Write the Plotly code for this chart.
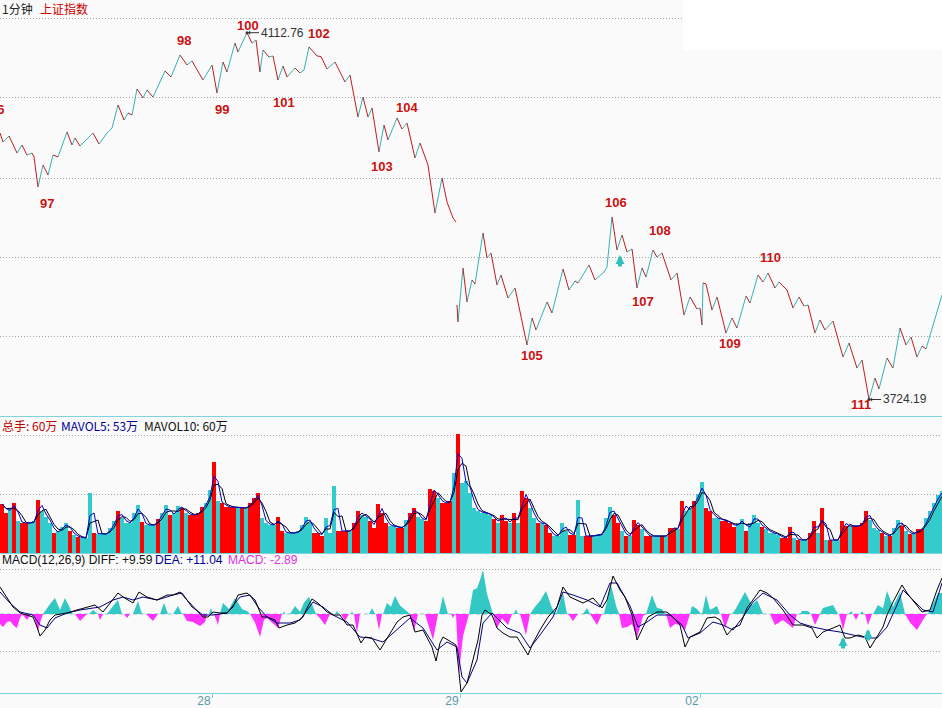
import plotly.graph_objects as go
import numpy as np
import pandas as pd

W, H = 942.0, 708.0

# ---------------- data ----------------
# 1-minute index (0 = left edge); day starts
day_ticks = [212, 460, 700]
day_labels = ["28", "29", "02"]

# price turning points (上证指数, 1 minute), None = opening gap
price_t = [0, 3, 9, 17, 22, 27, 32, 34, 38, 43,
           48, 53, 58, 67, 72, 75, 80, 93, 99, 107,
           112, 118, 124, 128, 132, 137, 143, 147, 153, 165,
           171, 180, 187, 192, 203, 212, 217, 223, 227, 235,
           238, 247, 252, 256, 260, 263, 269, 273, 278, 283,
           287, 295, 300, 304, 309, 317, 321, 327, 335, 345,
           350, 358, 363, 368, 372, 379, 384, 388, 397, 402,
           407, 415, 420, 428, 435, 442, 447, 453, 456,
           456.5,
           457, 458, 463, 467, 472, 475, 483, 487, 491, 497,
           501, 508, 515, 527, 532, 536, 547, 552, 563, 569,
           575, 578, 589, 595, 604, 607, 612, 617, 622, 627,
           632, 637, 642, 646, 653, 657, 662, 671, 677, 684,
           690, 697, 700, 702, 703, 706, 712, 717, 726, 732,
           737, 746, 750, 758, 763, 768, 775, 779, 787, 793,
           799, 804, 808, 815, 820, 825, 833, 843, 849, 857,
           862, 869, 875, 879, 887, 893, 900, 906, 911, 917,
           922, 926, 942]
price_v = [4006.5, 3997.0, 4003.3, 3985.3, 3993.8, 3983.2, 3985.3, 3981.1, 3949.3, 3972.6,
           3962.0, 3983.2, 3981.1, 4007.6, 3993.8, 4001.2, 3992.7, 4006.5, 3994.8, 4006.5,
           4011.8, 4036.2, 4020.3, 4027.7, 4025.6, 4053.1, 4043.6, 4052.1, 4044.6, 4072.2,
           4065.8, 4089.1, 4078.5, 4082.8, 4062.6, 4078.5, 4048.9, 4081.7, 4071.1, 4101.8,
           4092.3, 4112.76, 4101.8, 4105.0, 4071.1, 4094.4, 4087.0, 4088.1, 4062.6, 4077.5,
           4065.8, 4075.4, 4070.1, 4073.2, 4097.6, 4088.1, 4087.5, 4074.3, 4081.7, 4060.5,
           4067.9, 4023.4, 4044.6, 4023.4, 4033.0, 3986.4, 4015.0, 3999.1, 4022.4, 4010.7,
           4017.1, 3980.0, 3995.9, 3972.6, 3921.7, 3958.8, 3933.4, 3916.5, 3912.2,
           None,
           3824.3, 3806.3, 3863.5, 3827.5, 3850.8, 3846.5, 3900.6, 3874.1, 3879.4, 3845.5,
           3856.1, 3831.7, 3842.3, 3781.9, 3810.5, 3797.8, 3827.5, 3815.8, 3862.4, 3840.2,
           3849.7, 3847.6, 3866.7, 3850.8, 3859.2, 3864.5, 3917.5, 3882.5, 3898.4, 3880.4,
           3883.6, 3842.3, 3863.5, 3853.9, 3882.5, 3875.1, 3879.4, 3850.8, 3858.2, 3813.7,
           3832.8, 3820.0, 3821.1, 3803.1, 3847.6, 3846.5, 3819.0, 3832.8, 3794.6, 3810.5,
           3799.9, 3833.8, 3826.4, 3856.1, 3848.6, 3858.2, 3842.3, 3848.6, 3840.2, 3821.1,
           3832.8, 3823.2, 3824.3, 3794.6, 3808.4, 3797.8, 3807.3, 3769.2, 3784.0, 3757.5,
           3766.0, 3724.19, 3746.9, 3735.3, 3768.1, 3757.5, 3799.9, 3781.9, 3790.4, 3769.2,
           3780.8, 3777.7, 3834.9]

# wave count labels
wave_text = ["96", "97", "98", "99", "100", "101", "102", "103", "104",
             "105", "106", "107", "108", "109", "110", "111"]
wave_t = [0, 47, 184, 222, 248, 284, 319, 382, 407, 532, 616, 643, 660, 730, 770, 861]
wave_p = [4030.9, 3931.3, 4104.0, 4030.9, 4120.9, 4039.3, 4112.4, 3970.5, 4033.0,
          3771.3, 3933.4, 3827.5, 3902.7, 3783.0, 3875.1, 3719.4]

# buy-signal arrows
sig_t = [620]
sig_p = [3877.3]
macd_sig_t = [843, 868]
macd_sig_v = [-8.05, -5.25]

# volume (万手), 4-minute bins
vol_v = [49, 40, 45, 50, 32,  30, 30, 30, 32, 53,  42, 36, 30, 20, 22,  26, 30, 22, 18, 16,
         15, 15, 60, 20, 19,  19, 19, 25, 32, 42,  35, 30, 30, 40, 48,  31, 28, 28, 28, 34,
         40, 48, 38, 40, 47,  45, 40, 38, 38, 40,  46, 50, 63, 91, 52,  50, 46, 46, 46, 45,
         45, 45, 50, 55, 60,  35, 30, 28, 28, 36,  22, 20, 20, 20, 22,  28, 36, 30, 20, 20,
         17, 35, 20, 67, 22,  22, 22, 22, 30, 42,  38, 36, 32, 25, 49,  40, 30, 27, 27, 25,
         25, 33, 40, 45, 36,  34, 32, 64, 62, 55,  50, 50, 52, 80, 119, 70, 72, 60, 45, 42,
         40, 40, 38, 34, 30,  38, 32, 30, 40, 30,  62, 55, 45, 35, 30,  30, 28, 20, 17, 17,
         30, 22, 18, 18, 53,  17, 17, 17, 17, 19,  19, 35, 46, 38, 30,  22, 17, 17, 33, 28,
         24, 17, 17, 17, 17,  17, 17, 25, 25, 24,  52, 42, 45, 52, 59,  71, 45, 42, 35, 35,
         32, 32, 30, 26, 30,  34, 22, 30, 38, 30,  26, 24, 20, 20, 18,  15, 15, 26, 15, 13,
         13, 13, 20, 32, 20,  45, 13, 13, 13, 13,  32, 27, 27, 27, 27,  30, 42, 33, 25, 23,
         20, 17, 17, 25, 33,  27, 22, 19, 19, 24,  24, 35, 42, 50, 58,  62]
vol_dir = ("rrcrc" "rrccr" "cccrc" "ccrcr" "cccrc" "ccccr" "ccccc" "rcccr"
           "ccrcc" "rcrrr" "rccrc" "rrrrc" "rcrrr" "ccccr" "rcccc" "cccrr"
           "rcccr" "rrcrr" "ccrrr" "rrccr" "rcrrc" "crrrc" "rrrcr" "ccccc"
           "cccrc" "rrcrc" "rrccr" "crrcc" "ccrrc" "crrcc" "cccrr" "crcrr"
           "crrcc" "rcrrc" "rccrc" "crrcc" "rrrrc" "crccc" "rcccc" "rrrcr"
           "ccrrc" "rcrcc" "rrcrr" "rrccc" "rcrcc" "rcrcr" "rcccc" "c")
vol_t = list(range(2, 943, 4))

# MACD histogram (turning points)
hist_t = [0, 3, 7, 10, 14, 17, 20, 22,  27, 31,  34, 38, 41, 43,  50, 55, 60, 65, 70, 72,
          75, 80, 87,  89, 93, 97,  98, 100, 103,  107, 113, 118, 122,  124, 127, 130,
          133, 138, 142,  146, 153, 158,  160, 164, 168,  173, 178, 182,
          183, 187, 193, 200, 205, 207,  209, 211, 213,  214, 218, 220,
          223, 229, 235, 242, 247, 250,  255, 260, 264, 267, 272, 278, 282,
          283, 284, 285,  290, 295, 300, 304, 309, 316,  320, 325, 330,
          335, 337, 339,  341, 345, 349,  351, 352, 353,  354, 357, 360,
          369, 372, 375,  376, 379, 382,  383, 387, 391, 395, 400, 403, 407, 410,
          414, 418,  425, 433, 438,  439, 443, 448,  451, 453, 455,
          456, 458, 459, 463, 468, 469,  473, 477, 480, 483, 487, 493,
          497, 502, 508, 512,  514, 516, 518,  520, 526, 530,  535, 540, 546, 552, 556,
          563, 567,  568, 573, 578,  583, 587, 590,  597, 602,  604, 608, 611, 616, 619,
          622, 627, 632, 637, 643, 645,  646, 652, 657, 662, 665,
          666, 670, 675, 680, 685, 690,  692, 697, 701,  702, 706, 710, 717, 720,
          721, 725, 730,  732, 735, 745, 752, 757, 763,  770, 775, 783, 793, 797,
          800, 802, 808, 811,  815, 820,  823, 833, 838,  839, 843, 847,  849, 851, 853,
          856, 859,  860, 862, 864,  865, 868, 872,  873, 878, 883, 887, 893, 900, 905,
          910, 917, 923, 927,  928, 938, 942]
hist_v = [-3.5, -4.55, -2.8, -2.45, -4.2, -4.9, -1.4, 0,  -2.1, 0,  -1.0, -5.95, -2.0, 0,
          3.5, 5.6, 1.4, 5.6, 2.0, 0,
          0, -2.45, 0,  0, 1.4, 0,  0, -2.1, 0,  0, 2.8, 4.9, 0,  0, -1.4, 0,
          0, 4.55, 0,  0, -2.45, 0,  0, 3.85, 0,  0, 2.8, 0,
          0, -2.45, -2.8, -4.2, -2.8, 0,  0, 2.1, 0,  0, -3.85, 0,
          3.85, 1.75, 5.6, 1.75, 1.05, 0,  -3.0, -8.05, -2.0, -1.4, -3.0, -4.9, 0,
          0, 1.05, 0,  0, 2.8, 0.7, 4.0, 5.95, 0,  -1.5, -3.85, 0,
          0, 1.05, 0,  0, -2.45, 0,  0, 1.05, 0,  0, -6.65, 0,
          0, 2.1, 0,  0, -5.6, 0,  0, 3.85, 2.5, 6.3, 3.0, 2.1, 1.0, 0,
          -5.95, 0,  0, -9.1, 0,  0, 6.3, 0,  0, -1.4, 0,
          0, -16.1, -20.65, -7.7, -0.7, 0,  8.4, 9.0, 11.9, 15.4, 7.0, 0,
          -4.9, -1.5, -3.85, 0,  0, 1.75, 0,  0, -7.35, 0,  2.5, 4.55, 8.05, 2.1, 0,
          7.35, 0,  0, -2.45, 0,  0, 2.1, 0,  -3.85, 0,  0, 6.0, 10.15, 3.0, 0,
          -4.9, -4.55, -3.5, -8.4, -0.7, 0,  0, 6.65, 2.1, 1.75, 0,
          0, -4.9, -3.5, -3.85, -5.6, 0,  2.8, 1.75, 0,  0, 6.65, 1.4, 2.8, 0,
          0, -4.9, 0,  0, 1.4, 7.7, 3.15, 4.9, 0,  0, -3.85, -2.1, -4.9, 0,
          0, 1.05, 1.05, 0,  -3.85, 0,  2.1, 3.15, 0,  0, -5.6, 0,  0, 1.05, 0,
          -2.1, 0,  0, 1.0, 0,  0, -3.85, 0,  0, 3.15, 2.0, 8.05, 2.5, 7.7, 0,
          -3.0, -5.6, -2.0, 0,  0, 7.35, 7.35]

# DIFF (black) and DEA (blue)
diff_t = [0, 5, 13, 20, 33, 37, 40, 45, 50, 55, 67, 77, 87, 95, 103, 110, 118, 123, 133, 139,
          147, 157, 167, 173, 180, 187, 197, 203, 208, 213, 220, 227, 233, 238, 247, 255, 262, 267, 275, 279,
          287, 295, 303, 307, 312, 318, 327, 333, 340, 347, 353, 361, 365, 372, 380, 387, 397, 403, 410, 415,
          423, 432, 436, 440, 443, 448, 456, 458, 461, 467, 473, 478, 482, 485, 492, 497, 503, 510, 517, 523,
          528, 533, 540, 548, 557, 563, 570, 583, 593, 602, 607, 613, 620, 625, 632, 637, 642, 648, 657, 667,
          673, 680, 685, 690, 700, 707, 715, 720, 727, 733, 740, 747, 755, 760, 767, 773, 783, 793, 803, 812,
          817, 823, 833, 840, 845, 850, 858, 865, 870, 877, 883, 887, 893, 902, 907, 915, 922, 930, 937, 942]
diff_v = [9.45, 6.65, 2.45, 0.35, -1.05, -4.55, -7.7, -5.6, -2.1, -0.35,
          0.35, 1.4, 2.45, 3.15, 0.7, 3.85, 7.35, 5.95, 3.85, 7.7,
          5.95, 4.9, 6.65, 6.65, 7.7, 4.9, 1.4, -1.05, -1.05, 0.7,
          0.35, 0.35, 2.45, 6.65, 7.35, 4.9, -1.05, -1.05, -2.1, -4.9,
          -3.85, -3.15, -1.05, 2.1, 5.25, 3.85, 0.7, -0.35, -0.35, -3.85,
          -3.85, -10.15, -8.05, -8.4, -12.6, -8.4, -2.8, -1.05, -0.35, -6.3,
          -5.6, -11.55, -16.45, -10.15, -8.05, -9.1, -10.85, -17.15, -27.3, -24.15,
          -16.1, -9.1, -0.35, 1.4, -0.35, -4.9, -6.65, -8.05, -8.05, -11.55,
          -14.35, -10.15, -5.6, -1.05, 2.45, 9.45, 5.95, 3.85, 5.6, 2.1,
          4.9, 13.3, 8.4, 5.95, -0.35, -9.1, -5.6, -1.05, 0.7, 0.7,
          -1.05, -3.85, -11.55, -8.05, -6.3, -1.4, -1.05, -2.1, -7.35, -4.9,
          -3.85, 2.1, 5.95, 8.4, 7.35, 5.6, 1.4, -3.85, -3.85, -4.9,
          -8.4, -6.3, -4.9, -3.85, -8.4, -8.4, -7.35, -8.05, -11.9, -8.05,
          -4.55, -0.35, 4.2, 10.15, 7.35, 3.85, 0.7, 1.4, 8.4, 12.6]
dea_t = [0, 10, 20, 33, 40, 47, 55, 67, 80, 100, 113, 123, 133, 143, 157, 173, 182, 192, 203, 213,
         227, 240, 250, 258, 267, 277, 290, 300, 313, 323, 333, 347, 360, 370, 383, 397, 410, 423, 437, 447,
         457, 462, 467, 477, 483, 492, 507, 520, 530, 540, 553, 563, 573, 587, 600, 610, 617, 630, 638, 647,
         657, 670, 682, 688, 700, 713, 723, 733, 743, 753, 763, 777, 790, 800, 813, 827, 840, 853, 867, 877,
         887, 897, 903, 913, 923, 933, 942]
dea_v = [7.7, 3.85, 0.7, -0.35, -3.85, -4.9, -1.4, 0.35, 1.4, 2.45,
         4.9, 5.95, 4.9, 5.95, 4.9, 6.65, 7.35, 2.45, -0.35, -0.35,
         0.35, 5.95, 6.65, 2.45, -1.05, -3.15, -3.15, -2.1, 4.2, 2.45,
         -0.35, -2.8, -8.05, -8.4, -9.8, -5.6, -1.4, -4.9, -12.6, -9.8,
         -11.55, -22.05, -24.15, -16.1, -3.15, 0.35, -4.9, -6.65, -11.9, -7.35,
         -1.05, 7.7, 6.65, 4.9, 2.45, 10.85, 10.85, 2.8, -4.55, -2.8,
         -0.35, -0.35, -3.85, -8.4, -6.65, -2.8, -3.85, -5.6, -1.05, 4.2,
         7.35, 4.9, -0.35, -3.15, -4.55, -5.6, -6.3, -7.35, -8.4, -8.4,
         -4.55, 3.15, 8.4, 4.9, 1.4, 0.7, 10.85]

# axis scales and grid levels
price_range = [3706.7, 4147.4]
price_grid = [4127.3, 4043.6, 3958.8, 3875.1, 3790.4]
vol_range = [0, 136]
vol_grid = [59, 118]
macd_range = [-27.65, 21.0]
macd_grid = [15.75, -12.95]

assert len(price_t) == len(price_v)
assert len(vol_v) == len(vol_dir) == len(vol_t)
assert len(hist_t) == len(hist_v)
assert len(diff_t) == len(diff_v) and len(dea_t) == len(dea_v)

# ---------------- style ----------------
RED_LINE = "#c41a1a"
CYAN_LINE = "#35b2b2"
VOL_RED = "#ff0000"
VOL_CYAN = "#33cccc"
HIST_CYAN = "#33c8c4"
HIST_MAG = "#ff33ff"
BORDER = "#7fd3dc"
GRID = "#9aa8ac"
BG = "#fafafa"
FONT = "Liberation Sans, Noto Sans CJK SC, sans-serif"
CJK = "Noto Sans CJK SC, Liberation Sans, sans-serif"

fig = go.Figure()

# ---- price line: rising = cyan, falling = red ----
up_x, up_y, dn_x, dn_y = [], [], [], []
for i in range(len(price_t) - 1):
    a, b = price_v[i], price_v[i + 1]
    if a is None or b is None:
        continue
    if b >= a:
        up_x += [price_t[i], price_t[i + 1], None]
        up_y += [a, b, None]
    else:
        dn_x += [price_t[i], price_t[i + 1], None]
        dn_y += [a, b, None]
fig.add_trace(go.Scatter(x=up_x, y=up_y, mode="lines", line=dict(color=CYAN_LINE, width=1),
                         xaxis="x", yaxis="y", hoverinfo="skip", showlegend=False))
fig.add_trace(go.Scatter(x=dn_x, y=dn_y, mode="lines", line=dict(color=RED_LINE, width=1),
                         xaxis="x", yaxis="y", hoverinfo="skip", showlegend=False))

valid = [(t, v) for t, v in zip(price_t, price_v) if v is not None]
hi_t, hi_v = max(valid, key=lambda p: p[1])
lo_t, lo_v = min(valid, key=lambda p: p[1])
fig.add_trace(go.Scatter(x=[hi_t, lo_t], y=[hi_v, lo_v], mode="markers",
                         marker=dict(color="#333333", size=3), xaxis="x", yaxis="y",
                         hoverinfo="skip", showlegend=False))

# ---- volume ----
vol_colors = [VOL_RED if c == "r" else VOL_CYAN for c in vol_dir]
fig.add_trace(go.Bar(x=vol_t, y=vol_v, width=4, marker=dict(color=vol_colors, line=dict(width=0)),
                     xaxis="x", yaxis="y2", hoverinfo="skip", showlegend=False))
vs = pd.Series(vol_v, dtype=float)
mavol5 = vs.rolling(2, min_periods=1).mean()
mavol10 = vs.rolling(3, min_periods=1).mean()
fig.add_trace(go.Scatter(x=vol_t, y=mavol10, mode="lines", line=dict(color="#000000", width=1),
                         xaxis="x", yaxis="y2", hoverinfo="skip", showlegend=False))
fig.add_trace(go.Scatter(x=vol_t, y=mavol5, mode="lines", line=dict(color="#0000cc", width=1),
                         xaxis="x", yaxis="y2", hoverinfo="skip", showlegend=False))

# ---- MACD ----
hv = np.array(hist_v, dtype=float)
fig.add_trace(go.Scatter(x=hist_t, y=np.clip(hv, 0, None), mode="lines", line=dict(width=0, color=HIST_CYAN),
                         fill="tozeroy", fillcolor=HIST_CYAN, xaxis="x", yaxis="y3",
                         hoverinfo="skip", showlegend=False))
fig.add_trace(go.Scatter(x=hist_t, y=np.clip(hv, None, 0), mode="lines", line=dict(width=0, color=HIST_MAG),
                         fill="tozeroy", fillcolor=HIST_MAG, xaxis="x", yaxis="y3",
                         hoverinfo="skip", showlegend=False))
fig.add_trace(go.Scatter(x=dea_t, y=dea_v, mode="lines", line=dict(color="#000080", width=1),
                         xaxis="x", yaxis="y3", hoverinfo="skip", showlegend=False))
fig.add_trace(go.Scatter(x=diff_t, y=diff_v, mode="lines", line=dict(color="#000000", width=1),
                         xaxis="x", yaxis="y3", hoverinfo="skip", showlegend=False))

# ---------------- annotations ----------------
ann = []
for i, (txt, t, p) in enumerate(zip(wave_text, wave_t, wave_p)):
    a = dict(x=t, y=p, xref="x", yref="y", text=txt, showarrow=False,
             font=dict(family=FONT, size=13, color="#cc1111", weight="bold"))
    if i == 0:
        a.update(xanchor="right", xshift=6)
    ann.append(a)

for t, v in [(hi_t, hi_v), (lo_t, lo_v)]:
    ann.append(dict(x=t, y=v, xref="x", yref="y", text=f"{v:.2f}", showarrow=True,
                    ax=12, ay=0, xanchor="left", arrowhead=1, arrowsize=0.7, arrowwidth=1,
                    arrowcolor="#333333", standoff=1,
                    font=dict(family=FONT, size=12, color="#333333")))

for t, p in zip(sig_t, sig_p):
    ann.append(dict(x=t, y=p, xref="x", yref="y", text="", showarrow=True, ax=0, ay=13,
                    arrowhead=2, arrowsize=0.45, arrowwidth=4, arrowcolor="#30c0c0", standoff=0))
for t, v in zip(macd_sig_t, macd_sig_v):
    ann.append(dict(x=t, y=v, xref="x", yref="y3", text="", showarrow=True, ax=0, ay=13,
                    arrowhead=2, arrowsize=0.45, arrowwidth=4, arrowcolor="#30c0c0", standoff=0))


def label(x_px, y_px, text, color, family=FONT):
    ann.append(dict(x=x_px / W, y=1 - y_px / H, xref="paper", yref="paper", text=text,
                    showarrow=False, xanchor="left", yanchor="middle",
                    font=dict(family=family, size=12, color=color)))


label(0, 9, "1分钟", "#222222", CJK)
label(38, 9, "上证指数", "#cc0000", CJK)
label(0, 425, "总手: 60万", "#c00000", CJK)
label(59, 425, "MAVOL5: 53万", "#000099", CJK)
label(142, 425, "MAVOL10: 60万", "#111111", CJK)
label(0, 560, "MACD(12,26,9) DIFF: +9.59", "#111111")
label(153, 560, "DEA: +11.04", "#000099")
label(226, 560, "MACD: -2.89", "#e030e0")

# ---------------- shapes ----------------
shapes = [
    dict(type="line", xref="paper", yref="paper", x0=0, x1=1, y0=1 - 416.5 / H, y1=1 - 416.5 / H,
         line=dict(color=BORDER, width=1)),
    dict(type="line", xref="paper", yref="paper", x0=0, x1=1, y0=1 - 553.5 / H, y1=1 - 553.5 / H,
         line=dict(color=BORDER, width=1)),
    dict(type="line", xref="paper", yref="y3", x0=0, x1=1, y0=0, y1=0,
         line=dict(color="#8cc8d0", width=1, dash="4px,3px"), layer="below"),
    dict(type="rect", xref="paper", yref="paper", x0=683 / W, x1=1, y0=1 - 50 / H, y1=1,
         fillcolor="#ffffff", line=dict(width=0), layer="above"),
]

ygrid = dict(showticklabels=False, showgrid=True, gridcolor=GRID, griddash="1px,2px", gridwidth=1,
             zeroline=False, showline=False, ticks="", anchor="x", fixedrange=True)

fig.update_layout(
    width=942, height=708, autosize=False,
    margin=dict(l=0, r=0, t=0, b=0, pad=0),
    paper_bgcolor=BG, plot_bgcolor=BG,
    showlegend=False, bargap=0, barmode="overlay",
    xaxis=dict(domain=[0, 1], range=[0, 942], anchor="y3", tickmode="array",
               tickvals=day_ticks, ticktext=day_labels, ticks="outside", ticklen=4,
               tickcolor=BORDER, showline=True, linecolor=BORDER, linewidth=1,
               showgrid=False, zeroline=False, ticklabelshift=-8, ticklabelstandoff=-7,
               tickfont=dict(family=FONT, size=12, color="#5a9aa8"), automargin=False,
               fixedrange=True),
    yaxis=dict(domain=[1 - 416 / H, 1], range=price_range, tickvals=price_grid, **ygrid),
    yaxis2=dict(domain=[1 - 553 / H, 1 - 417 / H], range=vol_range, tickvals=vol_grid, **ygrid),
    yaxis3=dict(domain=[1 - 693 / H, 1 - 554 / H], range=macd_range, tickvals=macd_grid, **ygrid),
    annotations=ann,
    shapes=shapes,
)

fig.write_html("out.html", config={"displayModeBar": False})
